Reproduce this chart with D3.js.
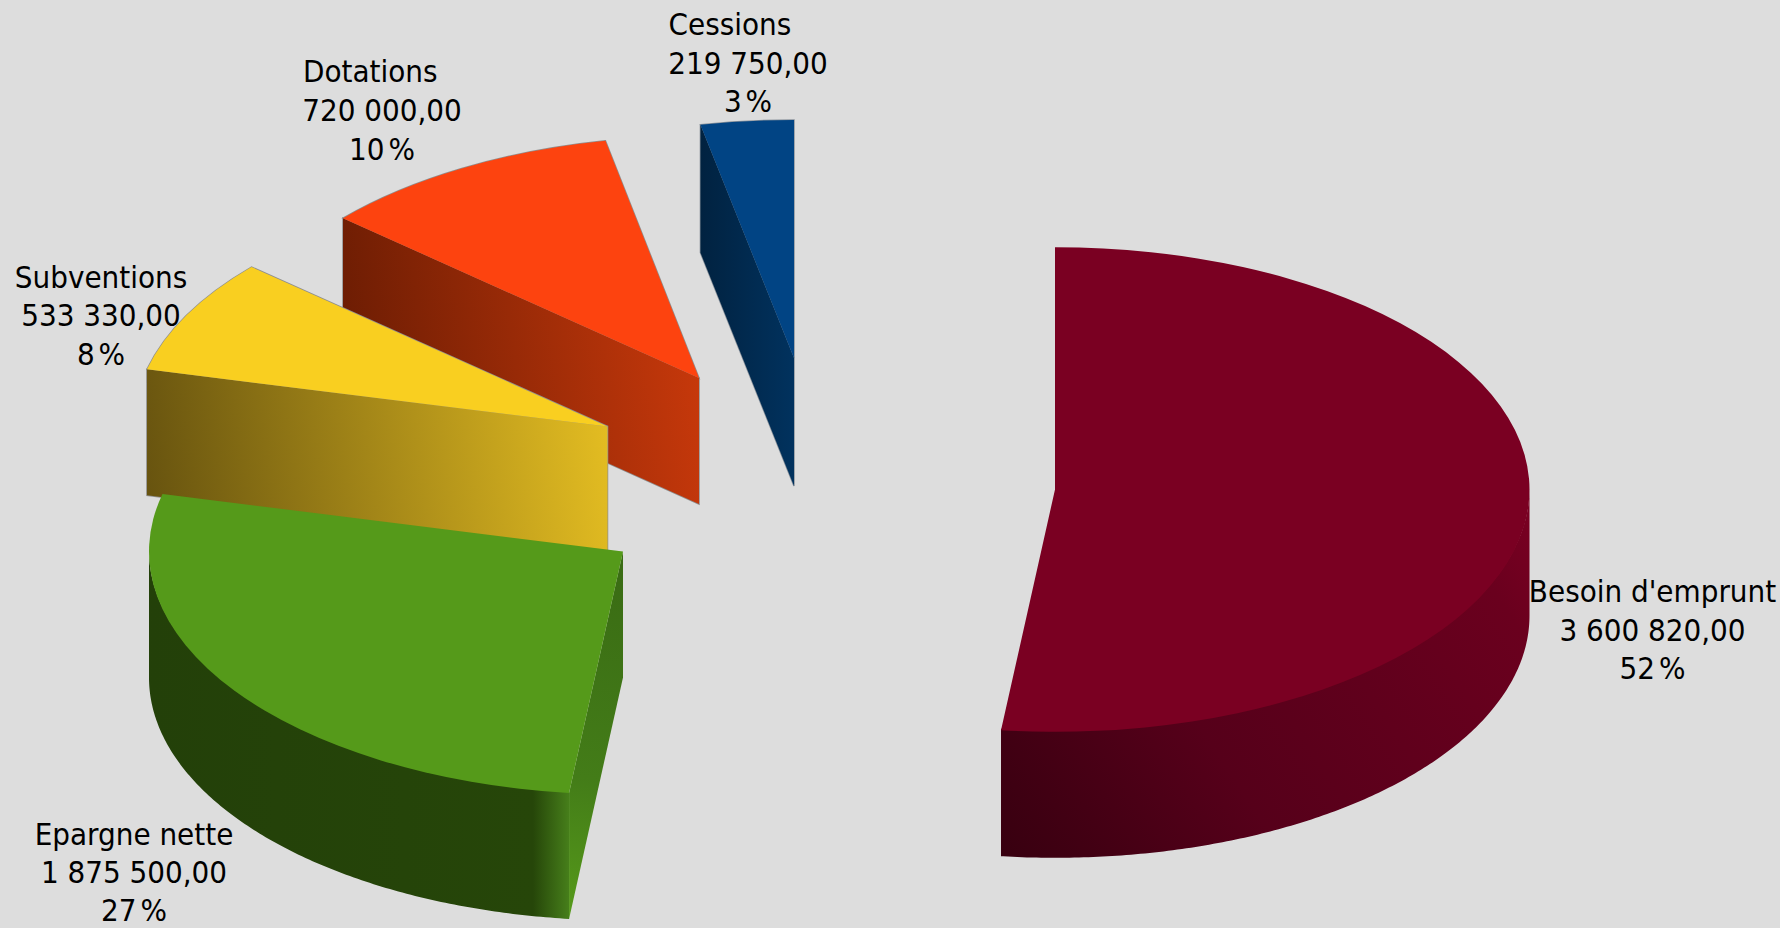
<!DOCTYPE html>
<html><head><meta charset="utf-8">
<script src="https://cdn.jsdelivr.net/npm/d3@7/dist/d3.min.js"></script>
<style>html,body{margin:0;padding:0;background:#dddddd;overflow:hidden}
svg{display:block}
text{font-family:"DejaVu Sans Condensed","DejaVu Sans";font-stretch:condensed;font-size:31px;fill:#000}</style>
</head><body><div id="chart"></div>
<script>
// Data, clockwise from 12 o'clock
const categories = ["Besoin d'emprunt","Epargne nette","Subventions","Dotations","Cessions"];
const values = [3600820,1875500,533330,720000,219750];
const topColors = ["#7a0022","#559a1a","#f9cf20","#fd430f","#014484"];

// Layout of the exploded slices (separate from the data)
const W=1780,H=928;
const centers = [[1055,489.5],[623,551.5],[607.5,426.5],[699,378],[794,358]];
const radiiX = [474.5,474,474,474,474];
const radiiY = [242.3,243,241.5,242,238];
const depths = [126,126,126,126,128];
const outlines = [null,null,"#8f8f8f","#8f8f8f","#8a929b"];
const labelBlocks = [
 {cx:1652.5,base:602,gap:38.6,firstLeft:null},
 {cx:134,base:844.5,gap:38,firstLeft:null},
 {cx:101,base:287.7,gap:38.6,firstLeft:null},
 {cx:382,base:82.3,gap:38.6,firstLeft:303},
 {cx:748,base:35,gap:38.6,firstLeft:668.6}
];

const total=d3.sum(values);
const locale=d3.formatLocale({decimal:",",thousands:" ",grouping:[3],currency:["",""]});
const fmt=locale.format(",.2f");

const svg=d3.select("#chart").append("svg").attr("width",W).attr("height",H);
svg.append("rect").attr("width",W).attr("height",H).attr("fill","#dddddd");
const defs=svg.append("defs");
function grad(id,v,stops){
  const g=defs.append("linearGradient").attr("id",id).attr("gradientUnits","userSpaceOnUse")
   .attr("x1",v[0]).attr("y1",v[1]).attr("x2",v[2]).attr("y2",v[3]);
  stops.forEach(s=>g.append("stop").attr("offset",s[0]).attr("stop-color",s[1]));
  return `url(#${id})`;
}
const faceFill=[
  null,
  grad("fg",[623,570,570,918],[[0,"#3a6c14"],[.6,"#437c18"],[1,"#569a1a"]]),
  grad("fy",[146,500,620,435],[[0,"#67530f"],[1,"#e6bf22"]]),
  grad("fo",[343,420,698,372],[[0,"#6a1c03"],[1,"#c6380b"]]),
  grad("fb",[700,200,794,200],[[0,"#012240"],[1,"#01325e"]])
];
const wallFill=[
  grad("wr",[1000,850,1529,500],[[0,"#380010"],[.37,"#56001a"],[.875,"#6a001e"],[1,"#7a0022"]]),
  grad("wg",[149,0,570,0],[[0,"#234009"],[.912,"#264609"],[1,"#47801b"]]),null,null,null
];

const pie=d3.pie().sort(null).value(d=>d)(values);
const arc=d3.arc().innerRadius(0);
const lineGen=d3.line();
const order=[4,3,2,1,0];

order.forEach(i=>{
  const a=pie[i],[cx,cy]=centers[i],rx=radiiX[i],ry=radiiY[i],dz=depths[i];
  const px=t=>cx+rx*Math.sin(t),py=t=>cy-ry*Math.cos(t);
  const g=svg.append("g").attr("class","slice").datum(categories[i]);
  const st=outlines[i];
  const t0=a.startAngle,t1=a.endAngle;
  const showFace=Math.sin(t0)<-1e-6;
  const faceD=lineGen([[cx,cy],[px(t0),py(t0)],[px(t0),py(t0)+dz],[cx,cy+dz]])+"Z";
  const topD=arc({startAngle:t0,endAngle:t1,outerRadius:rx});
  const topTf=`translate(${cx},${cy}) scale(1,${ry/rx})`;
  // thin silhouette first, so that no line shows between the faces
  if(st){
    if(showFace) g.append("path").attr("d",faceD).attr("fill","none").attr("stroke",st).attr("stroke-width",1.5);
    g.append("path").attr("transform",topTf).attr("d",topD).attr("fill","none")
     .attr("stroke",st).attr("stroke-width",1.5).attr("vector-effect","non-scaling-stroke");
  }
  // cut face at the start angle, visible when it faces the viewer
  if(showFace) g.append("path").attr("d",faceD).attr("fill",faceFill[i]);
  // outer rim on the visible front half; its upper edge runs slightly under the top face
  const lo=Math.max(t0,Math.PI/2),hi=Math.min(t1,Math.PI*1.5);
  if(hi>lo){
    const ang=d3.range(lo,hi,0.01).concat([hi]);
    const pts=ang.map(t=>[px(t),py(t)-1.5]).concat(ang.slice().reverse().map(t=>[px(t),py(t)+dz]));
    g.append("path").attr("d",lineGen(pts)+"Z").attr("fill",wallFill[i]);
  }
  // top face
  g.append("path").attr("transform",topTf).attr("d",topD).attr("fill",topColors[i]);
});

categories.forEach((c,i)=>{
  const b=labelBlocks[i];
  const lines=[c,fmt(values[i]),Math.round(values[i]/total*100)+" %"];
  const t=svg.append("g").attr("class","label");
  lines.forEach((s,k)=>{
    const left=k===0&&b.firstLeft!==null;
    t.append("text").attr("x",left?b.firstLeft:b.cx).attr("y",b.base+k*b.gap)
     .attr("text-anchor",left?"start":"middle")
     .attr("word-spacing",k===2?-5:0).text(s);
  });
});
</script></body></html>
